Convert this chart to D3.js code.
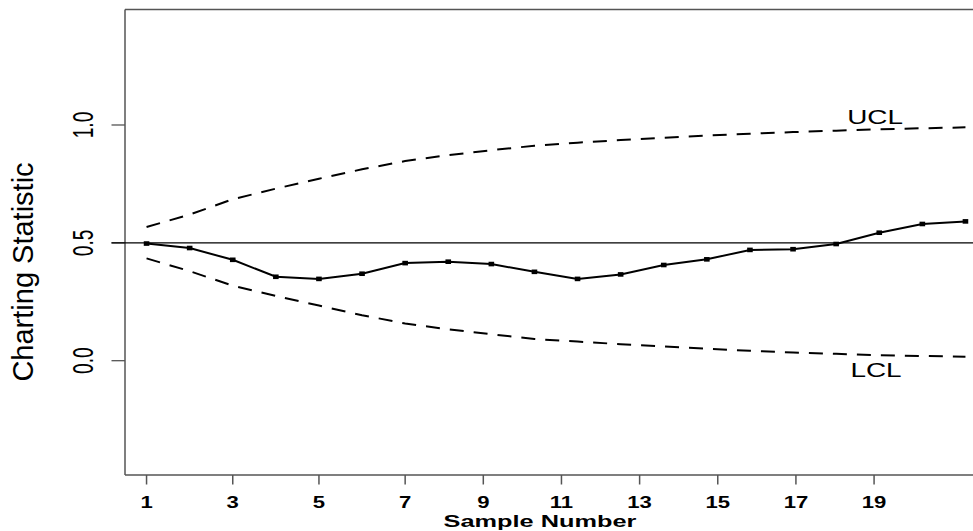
<!DOCTYPE html>
<html>
<head>
<meta charset="utf-8">
<script src="https://cdn.jsdelivr.net/npm/d3@7"></script>
<style>
  html, body { margin: 0; padding: 0; background: #fff; }
  svg { display: block; }
  text { font-family: "Liberation Sans", Arial, sans-serif; fill: #000; }
</style>
</head>
<body>
<svg id="chart" width="973" height="531"></svg>
<script>
// ---- data ----
const samples = [1,2,3,4,5,6,7,8,9,10,11,12,13,14,15,16,17,18,19,20];
const statistic = [0.497,0.478,0.428,0.356,0.347,0.369,0.414,0.420,0.410,0.377,
                   0.347,0.366,0.406,0.430,0.470,0.473,0.495,0.543,0.580,0.591];
const ucl = [0.567,0.620,0.685,0.730,0.772,0.812,0.847,0.872,0.893,0.912,
             0.925,0.936,0.946,0.955,0.963,0.970,0.976,0.982,0.986,0.990];
const lcl = [0.434,0.380,0.318,0.275,0.234,0.193,0.158,0.133,0.112,0.092,
             0.081,0.070,0.060,0.051,0.042,0.035,0.029,0.023,0.020,0.017];
const centerValue = 0.5;
const xTickLabels = [1,3,5,7,9,11,13,15,17,19];
const yTickValues = [0.0, 0.5, 1.0];
const yTickLabels = ["0.0", "0.5", "1.0"];
const xTitle = "Sample Number";
const yTitle = "Charting Statistic";
const uclLabel = "UCL";
const lclLabel = "LCL";

// ---- layout ----
const svg = d3.select("#chart");
const plotLeft = 125, plotTop = 9.5, plotBottom = 475, viewRight = 973;
const x = d3.scaleLinear().domain([0.5, 20.5]).range([plotLeft, 987]);
const y = d3.scaleLinear().domain([-0.485, 1.49]).range([plotBottom, plotTop]);
// tick label axis (labels beyond 7 are placed slightly compressed in the reference)
const xAxisScale = d3.scaleLinear().domain([1, 7, 19]).range([x(1), x(7), x(17.88)]);

const axisColor = "#555";

// box (top, left, bottom; right side beyond view)
svg.append("line").attr("x1", plotLeft).attr("x2", viewRight).attr("y1", plotTop).attr("y2", plotTop)
  .attr("stroke", axisColor).attr("stroke-width", 1.3);
svg.append("line").attr("x1", plotLeft).attr("x2", plotLeft).attr("y1", plotTop).attr("y2", plotBottom)
  .attr("stroke", axisColor).attr("stroke-width", 1.5);
svg.append("line").attr("x1", plotLeft).attr("x2", viewRight).attr("y1", plotBottom).attr("y2", plotBottom)
  .attr("stroke", axisColor).attr("stroke-width", 1.5);

// y ticks
const yt = svg.append("g");
yt.selectAll("line").data(yTickValues).join("line")
  .attr("x1", 111.5).attr("x2", plotLeft)
  .attr("y1", d => y(d)).attr("y2", d => y(d))
  .attr("stroke", axisColor).attr("stroke-width", 1.3);
yt.selectAll("text").data(yTickValues).join("text")
  .attr("transform", d => `translate(93,${y(d)}) rotate(-90) scale(0.64,1)`)
  .attr("text-anchor", "middle")
  .attr("font-size", 30)
  .text((d, i) => yTickLabels[i]);

// x ticks
const xt = svg.append("g");
xt.selectAll("line").data(xTickLabels).join("line")
  .attr("x1", d => xAxisScale(d)).attr("x2", d => xAxisScale(d))
  .attr("y1", plotBottom).attr("y2", 484.5)
  .attr("stroke", axisColor).attr("stroke-width", 1.5);
xt.selectAll("text").data(xTickLabels).join("text")
  .attr("transform", d => `translate(${xAxisScale(d)},507.5) scale(1.38,1)`)
  .attr("text-anchor", "middle")
  .attr("font-size", 16)
  .attr("font-weight", "bold")
  .text(d => d);

// titles
svg.append("text")
  .attr("transform", "translate(540,526.5) scale(1.49,1)")
  .attr("text-anchor", "middle")
  .attr("font-size", 17)
  .attr("font-weight", "bold")
  .text(xTitle);
svg.append("text")
  .attr("transform", "translate(33,272) rotate(-90)")
  .attr("text-anchor", "middle")
  .attr("font-size", 29)
  .text(yTitle);

// center line
svg.append("line").attr("x1", 111.5).attr("x2", viewRight)
  .attr("y1", y(centerValue)).attr("y2", y(centerValue))
  .attr("stroke", "#000").attr("stroke-width", 1.2);

// control limits
const lineGen = arr => d3.line().x((d, i) => x(samples[i])).y(d => y(d))(arr);
[ucl, lcl].forEach(arr => {
  svg.append("path").attr("d", lineGen(arr))
    .attr("fill", "none").attr("stroke", "#000")
    .attr("stroke-width", 2).attr("stroke-dasharray", "14,10");
});

// series
svg.append("path").attr("d", lineGen(statistic))
  .attr("fill", "none").attr("stroke", "#000").attr("stroke-width", 2);
svg.append("g").selectAll("rect").data(statistic).join("rect")
  .attr("x", (d, i) => x(samples[i]) - 2.8)
  .attr("y", d => y(d) - 2.3)
  .attr("width", 5.6).attr("height", 4.6)
  .attr("fill", "#000");

// limit labels
svg.append("text")
  .attr("transform", "translate(875,124) scale(1.43,1)")
  .attr("text-anchor", "middle").attr("font-size", 19.5).text(uclLabel);
svg.append("text")
  .attr("transform", "translate(876,377) scale(1.43,1)")
  .attr("text-anchor", "middle").attr("font-size", 19.5).text(lclLabel);
</script>
</body>
</html>
